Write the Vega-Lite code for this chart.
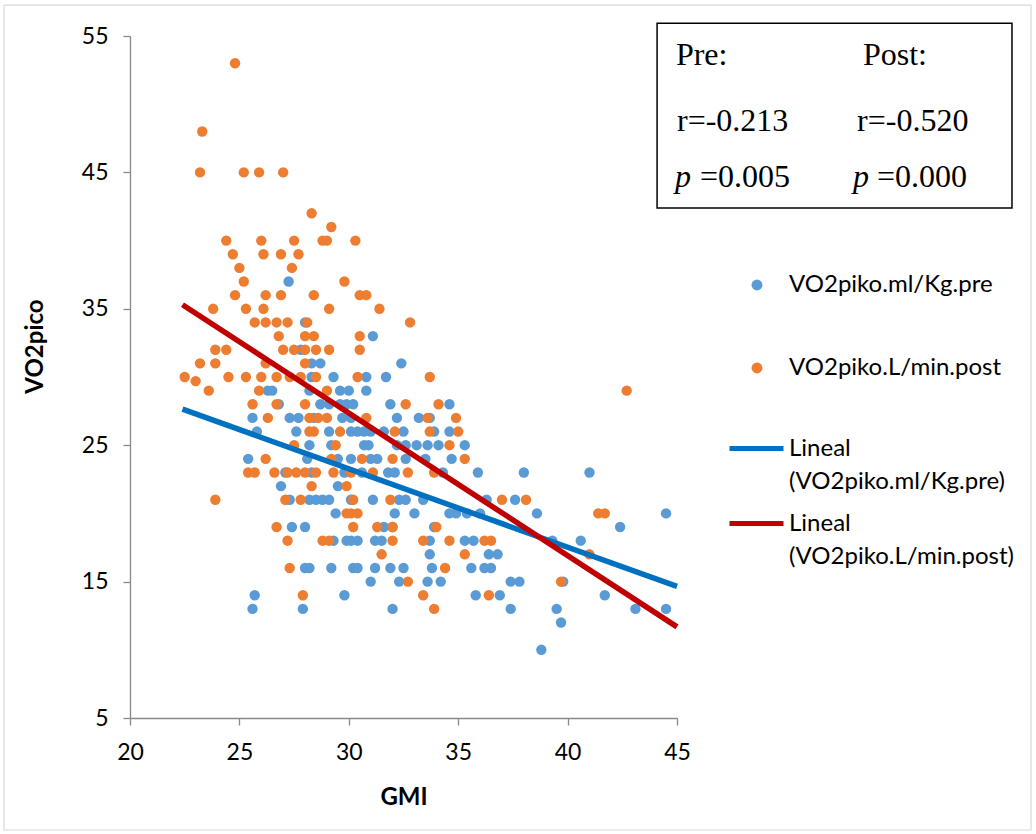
{
  "$schema": "https://vega.github.io/schema/vega-lite/v6.json",
  "width": 547,
  "height": 682,
  "autosize": {"type": "none"},
  "padding": {"left": 130, "top": 36, "right": 359, "bottom": 116},
  "background": "white",
  "config": {"view": {"stroke": null}, "font": "Lato", "style": {"guide-label": {"lineHeight": 33}}},
  "datasets": {
    "obs": [
      {"serie":"VO2piko.ml/Kg.pre","GMI":27.25,"VO2pico":37},
      {"serie":"VO2piko.ml/Kg.pre","GMI":28.0,"VO2pico":34},
      {"serie":"VO2piko.ml/Kg.pre","GMI":31.1,"VO2pico":33},
      {"serie":"VO2piko.ml/Kg.pre","GMI":27.8,"VO2pico":32},
      {"serie":"VO2piko.ml/Kg.pre","GMI":28.3,"VO2pico":31},
      {"serie":"VO2piko.ml/Kg.pre","GMI":28.7,"VO2pico":31},
      {"serie":"VO2piko.ml/Kg.pre","GMI":32.4,"VO2pico":31},
      {"serie":"VO2piko.ml/Kg.pre","GMI":28.3,"VO2pico":30},
      {"serie":"VO2piko.ml/Kg.pre","GMI":29.3,"VO2pico":30},
      {"serie":"VO2piko.ml/Kg.pre","GMI":30.8,"VO2pico":30},
      {"serie":"VO2piko.ml/Kg.pre","GMI":31.7,"VO2pico":30},
      {"serie":"VO2piko.ml/Kg.pre","GMI":26.3,"VO2pico":29},
      {"serie":"VO2piko.ml/Kg.pre","GMI":26.5,"VO2pico":29},
      {"serie":"VO2piko.ml/Kg.pre","GMI":28.2,"VO2pico":29},
      {"serie":"VO2piko.ml/Kg.pre","GMI":29.6,"VO2pico":29},
      {"serie":"VO2piko.ml/Kg.pre","GMI":30.0,"VO2pico":29},
      {"serie":"VO2piko.ml/Kg.pre","GMI":30.8,"VO2pico":29},
      {"serie":"VO2piko.ml/Kg.pre","GMI":26.8,"VO2pico":28},
      {"serie":"VO2piko.ml/Kg.pre","GMI":28.7,"VO2pico":28},
      {"serie":"VO2piko.ml/Kg.pre","GMI":29.1,"VO2pico":28},
      {"serie":"VO2piko.ml/Kg.pre","GMI":29.6,"VO2pico":28},
      {"serie":"VO2piko.ml/Kg.pre","GMI":29.9,"VO2pico":28},
      {"serie":"VO2piko.ml/Kg.pre","GMI":30.2,"VO2pico":28},
      {"serie":"VO2piko.ml/Kg.pre","GMI":31.9,"VO2pico":28},
      {"serie":"VO2piko.ml/Kg.pre","GMI":34.6,"VO2pico":28},
      {"serie":"VO2piko.ml/Kg.pre","GMI":25.6,"VO2pico":27},
      {"serie":"VO2piko.ml/Kg.pre","GMI":27.3,"VO2pico":27},
      {"serie":"VO2piko.ml/Kg.pre","GMI":27.7,"VO2pico":27},
      {"serie":"VO2piko.ml/Kg.pre","GMI":28.4,"VO2pico":27},
      {"serie":"VO2piko.ml/Kg.pre","GMI":29.7,"VO2pico":27},
      {"serie":"VO2piko.ml/Kg.pre","GMI":30.1,"VO2pico":27},
      {"serie":"VO2piko.ml/Kg.pre","GMI":32.2,"VO2pico":27},
      {"serie":"VO2piko.ml/Kg.pre","GMI":33.2,"VO2pico":27},
      {"serie":"VO2piko.ml/Kg.pre","GMI":33.7,"VO2pico":27},
      {"serie":"VO2piko.ml/Kg.pre","GMI":25.8,"VO2pico":26},
      {"serie":"VO2piko.ml/Kg.pre","GMI":27.6,"VO2pico":26},
      {"serie":"VO2piko.ml/Kg.pre","GMI":29.1,"VO2pico":26},
      {"serie":"VO2piko.ml/Kg.pre","GMI":30.1,"VO2pico":26},
      {"serie":"VO2piko.ml/Kg.pre","GMI":30.4,"VO2pico":26},
      {"serie":"VO2piko.ml/Kg.pre","GMI":30.7,"VO2pico":26},
      {"serie":"VO2piko.ml/Kg.pre","GMI":31.0,"VO2pico":26},
      {"serie":"VO2piko.ml/Kg.pre","GMI":31.6,"VO2pico":26},
      {"serie":"VO2piko.ml/Kg.pre","GMI":32.5,"VO2pico":26},
      {"serie":"VO2piko.ml/Kg.pre","GMI":33.9,"VO2pico":26},
      {"serie":"VO2piko.ml/Kg.pre","GMI":34.6,"VO2pico":26},
      {"serie":"VO2piko.ml/Kg.pre","GMI":28.2,"VO2pico":25},
      {"serie":"VO2piko.ml/Kg.pre","GMI":29.2,"VO2pico":25},
      {"serie":"VO2piko.ml/Kg.pre","GMI":30.7,"VO2pico":25},
      {"serie":"VO2piko.ml/Kg.pre","GMI":30.9,"VO2pico":25},
      {"serie":"VO2piko.ml/Kg.pre","GMI":32.2,"VO2pico":25},
      {"serie":"VO2piko.ml/Kg.pre","GMI":32.6,"VO2pico":25},
      {"serie":"VO2piko.ml/Kg.pre","GMI":33.1,"VO2pico":25},
      {"serie":"VO2piko.ml/Kg.pre","GMI":33.6,"VO2pico":25},
      {"serie":"VO2piko.ml/Kg.pre","GMI":34.1,"VO2pico":25},
      {"serie":"VO2piko.ml/Kg.pre","GMI":35.3,"VO2pico":25},
      {"serie":"VO2piko.ml/Kg.pre","GMI":25.4,"VO2pico":24},
      {"serie":"VO2piko.ml/Kg.pre","GMI":28.1,"VO2pico":24},
      {"serie":"VO2piko.ml/Kg.pre","GMI":29.5,"VO2pico":24},
      {"serie":"VO2piko.ml/Kg.pre","GMI":30.1,"VO2pico":24},
      {"serie":"VO2piko.ml/Kg.pre","GMI":31.0,"VO2pico":24},
      {"serie":"VO2piko.ml/Kg.pre","GMI":31.3,"VO2pico":24},
      {"serie":"VO2piko.ml/Kg.pre","GMI":32.6,"VO2pico":24},
      {"serie":"VO2piko.ml/Kg.pre","GMI":33.5,"VO2pico":24},
      {"serie":"VO2piko.ml/Kg.pre","GMI":34.7,"VO2pico":24},
      {"serie":"VO2piko.ml/Kg.pre","GMI":27.1,"VO2pico":23},
      {"serie":"VO2piko.ml/Kg.pre","GMI":28.3,"VO2pico":23},
      {"serie":"VO2piko.ml/Kg.pre","GMI":29.8,"VO2pico":23},
      {"serie":"VO2piko.ml/Kg.pre","GMI":30.6,"VO2pico":23},
      {"serie":"VO2piko.ml/Kg.pre","GMI":31.8,"VO2pico":23},
      {"serie":"VO2piko.ml/Kg.pre","GMI":32.1,"VO2pico":23},
      {"serie":"VO2piko.ml/Kg.pre","GMI":34.3,"VO2pico":23},
      {"serie":"VO2piko.ml/Kg.pre","GMI":35.9,"VO2pico":23},
      {"serie":"VO2piko.ml/Kg.pre","GMI":38.0,"VO2pico":23},
      {"serie":"VO2piko.ml/Kg.pre","GMI":41.0,"VO2pico":23},
      {"serie":"VO2piko.ml/Kg.pre","GMI":26.9,"VO2pico":22},
      {"serie":"VO2piko.ml/Kg.pre","GMI":29.5,"VO2pico":22},
      {"serie":"VO2piko.ml/Kg.pre","GMI":27.3,"VO2pico":21},
      {"serie":"VO2piko.ml/Kg.pre","GMI":28.2,"VO2pico":21},
      {"serie":"VO2piko.ml/Kg.pre","GMI":28.5,"VO2pico":21},
      {"serie":"VO2piko.ml/Kg.pre","GMI":28.8,"VO2pico":21},
      {"serie":"VO2piko.ml/Kg.pre","GMI":29.1,"VO2pico":21},
      {"serie":"VO2piko.ml/Kg.pre","GMI":30.1,"VO2pico":21},
      {"serie":"VO2piko.ml/Kg.pre","GMI":31.1,"VO2pico":21},
      {"serie":"VO2piko.ml/Kg.pre","GMI":32.3,"VO2pico":21},
      {"serie":"VO2piko.ml/Kg.pre","GMI":32.6,"VO2pico":21},
      {"serie":"VO2piko.ml/Kg.pre","GMI":33.4,"VO2pico":21},
      {"serie":"VO2piko.ml/Kg.pre","GMI":36.3,"VO2pico":21},
      {"serie":"VO2piko.ml/Kg.pre","GMI":37.6,"VO2pico":21},
      {"serie":"VO2piko.ml/Kg.pre","GMI":29.4,"VO2pico":20},
      {"serie":"VO2piko.ml/Kg.pre","GMI":32.1,"VO2pico":20},
      {"serie":"VO2piko.ml/Kg.pre","GMI":33.0,"VO2pico":20},
      {"serie":"VO2piko.ml/Kg.pre","GMI":34.6,"VO2pico":20},
      {"serie":"VO2piko.ml/Kg.pre","GMI":34.9,"VO2pico":20},
      {"serie":"VO2piko.ml/Kg.pre","GMI":35.4,"VO2pico":20},
      {"serie":"VO2piko.ml/Kg.pre","GMI":36.0,"VO2pico":20},
      {"serie":"VO2piko.ml/Kg.pre","GMI":38.6,"VO2pico":20},
      {"serie":"VO2piko.ml/Kg.pre","GMI":44.5,"VO2pico":20},
      {"serie":"VO2piko.ml/Kg.pre","GMI":27.4,"VO2pico":19},
      {"serie":"VO2piko.ml/Kg.pre","GMI":28.0,"VO2pico":19},
      {"serie":"VO2piko.ml/Kg.pre","GMI":31.6,"VO2pico":19},
      {"serie":"VO2piko.ml/Kg.pre","GMI":32.0,"VO2pico":19},
      {"serie":"VO2piko.ml/Kg.pre","GMI":33.9,"VO2pico":19},
      {"serie":"VO2piko.ml/Kg.pre","GMI":42.4,"VO2pico":19},
      {"serie":"VO2piko.ml/Kg.pre","GMI":29.3,"VO2pico":18},
      {"serie":"VO2piko.ml/Kg.pre","GMI":29.9,"VO2pico":18},
      {"serie":"VO2piko.ml/Kg.pre","GMI":30.1,"VO2pico":18},
      {"serie":"VO2piko.ml/Kg.pre","GMI":30.4,"VO2pico":18},
      {"serie":"VO2piko.ml/Kg.pre","GMI":31.2,"VO2pico":18},
      {"serie":"VO2piko.ml/Kg.pre","GMI":31.5,"VO2pico":18},
      {"serie":"VO2piko.ml/Kg.pre","GMI":33.7,"VO2pico":18},
      {"serie":"VO2piko.ml/Kg.pre","GMI":35.3,"VO2pico":18},
      {"serie":"VO2piko.ml/Kg.pre","GMI":35.7,"VO2pico":18},
      {"serie":"VO2piko.ml/Kg.pre","GMI":39.3,"VO2pico":18},
      {"serie":"VO2piko.ml/Kg.pre","GMI":40.6,"VO2pico":18},
      {"serie":"VO2piko.ml/Kg.pre","GMI":33.7,"VO2pico":17},
      {"serie":"VO2piko.ml/Kg.pre","GMI":36.4,"VO2pico":17},
      {"serie":"VO2piko.ml/Kg.pre","GMI":36.8,"VO2pico":17},
      {"serie":"VO2piko.ml/Kg.pre","GMI":28.0,"VO2pico":16},
      {"serie":"VO2piko.ml/Kg.pre","GMI":28.2,"VO2pico":16},
      {"serie":"VO2piko.ml/Kg.pre","GMI":29.2,"VO2pico":16},
      {"serie":"VO2piko.ml/Kg.pre","GMI":30.2,"VO2pico":16},
      {"serie":"VO2piko.ml/Kg.pre","GMI":30.4,"VO2pico":16},
      {"serie":"VO2piko.ml/Kg.pre","GMI":31.2,"VO2pico":16},
      {"serie":"VO2piko.ml/Kg.pre","GMI":31.9,"VO2pico":16},
      {"serie":"VO2piko.ml/Kg.pre","GMI":32.5,"VO2pico":16},
      {"serie":"VO2piko.ml/Kg.pre","GMI":33.8,"VO2pico":16},
      {"serie":"VO2piko.ml/Kg.pre","GMI":35.6,"VO2pico":16},
      {"serie":"VO2piko.ml/Kg.pre","GMI":36.2,"VO2pico":16},
      {"serie":"VO2piko.ml/Kg.pre","GMI":36.5,"VO2pico":16},
      {"serie":"VO2piko.ml/Kg.pre","GMI":31.0,"VO2pico":15},
      {"serie":"VO2piko.ml/Kg.pre","GMI":32.3,"VO2pico":15},
      {"serie":"VO2piko.ml/Kg.pre","GMI":33.6,"VO2pico":15},
      {"serie":"VO2piko.ml/Kg.pre","GMI":34.2,"VO2pico":15},
      {"serie":"VO2piko.ml/Kg.pre","GMI":37.4,"VO2pico":15},
      {"serie":"VO2piko.ml/Kg.pre","GMI":37.8,"VO2pico":15},
      {"serie":"VO2piko.ml/Kg.pre","GMI":39.8,"VO2pico":15},
      {"serie":"VO2piko.ml/Kg.pre","GMI":25.7,"VO2pico":14},
      {"serie":"VO2piko.ml/Kg.pre","GMI":29.8,"VO2pico":14},
      {"serie":"VO2piko.ml/Kg.pre","GMI":35.8,"VO2pico":14},
      {"serie":"VO2piko.ml/Kg.pre","GMI":36.9,"VO2pico":14},
      {"serie":"VO2piko.ml/Kg.pre","GMI":41.7,"VO2pico":14},
      {"serie":"VO2piko.ml/Kg.pre","GMI":25.6,"VO2pico":13},
      {"serie":"VO2piko.ml/Kg.pre","GMI":27.9,"VO2pico":13},
      {"serie":"VO2piko.ml/Kg.pre","GMI":32.0,"VO2pico":13},
      {"serie":"VO2piko.ml/Kg.pre","GMI":37.4,"VO2pico":13},
      {"serie":"VO2piko.ml/Kg.pre","GMI":39.5,"VO2pico":13},
      {"serie":"VO2piko.ml/Kg.pre","GMI":43.1,"VO2pico":13},
      {"serie":"VO2piko.ml/Kg.pre","GMI":44.5,"VO2pico":13},
      {"serie":"VO2piko.ml/Kg.pre","GMI":39.7,"VO2pico":12},
      {"serie":"VO2piko.ml/Kg.pre","GMI":38.8,"VO2pico":10},
      {"serie":"VO2piko.L/min.post","GMI":24.8,"VO2pico":53},
      {"serie":"VO2piko.L/min.post","GMI":23.3,"VO2pico":48},
      {"serie":"VO2piko.L/min.post","GMI":23.2,"VO2pico":45},
      {"serie":"VO2piko.L/min.post","GMI":25.2,"VO2pico":45},
      {"serie":"VO2piko.L/min.post","GMI":25.9,"VO2pico":45},
      {"serie":"VO2piko.L/min.post","GMI":27.0,"VO2pico":45},
      {"serie":"VO2piko.L/min.post","GMI":28.3,"VO2pico":42},
      {"serie":"VO2piko.L/min.post","GMI":29.2,"VO2pico":41},
      {"serie":"VO2piko.L/min.post","GMI":24.4,"VO2pico":40},
      {"serie":"VO2piko.L/min.post","GMI":26.0,"VO2pico":40},
      {"serie":"VO2piko.L/min.post","GMI":27.5,"VO2pico":40},
      {"serie":"VO2piko.L/min.post","GMI":28.8,"VO2pico":40},
      {"serie":"VO2piko.L/min.post","GMI":29.0,"VO2pico":40},
      {"serie":"VO2piko.L/min.post","GMI":30.3,"VO2pico":40},
      {"serie":"VO2piko.L/min.post","GMI":24.7,"VO2pico":39},
      {"serie":"VO2piko.L/min.post","GMI":26.1,"VO2pico":39},
      {"serie":"VO2piko.L/min.post","GMI":26.9,"VO2pico":39},
      {"serie":"VO2piko.L/min.post","GMI":27.7,"VO2pico":39},
      {"serie":"VO2piko.L/min.post","GMI":25.0,"VO2pico":38},
      {"serie":"VO2piko.L/min.post","GMI":27.4,"VO2pico":38},
      {"serie":"VO2piko.L/min.post","GMI":25.2,"VO2pico":37},
      {"serie":"VO2piko.L/min.post","GMI":29.8,"VO2pico":37},
      {"serie":"VO2piko.L/min.post","GMI":24.8,"VO2pico":36},
      {"serie":"VO2piko.L/min.post","GMI":26.2,"VO2pico":36},
      {"serie":"VO2piko.L/min.post","GMI":26.9,"VO2pico":36},
      {"serie":"VO2piko.L/min.post","GMI":28.4,"VO2pico":36},
      {"serie":"VO2piko.L/min.post","GMI":30.5,"VO2pico":36},
      {"serie":"VO2piko.L/min.post","GMI":30.8,"VO2pico":36},
      {"serie":"VO2piko.L/min.post","GMI":23.8,"VO2pico":35},
      {"serie":"VO2piko.L/min.post","GMI":25.3,"VO2pico":35},
      {"serie":"VO2piko.L/min.post","GMI":26.1,"VO2pico":35},
      {"serie":"VO2piko.L/min.post","GMI":29.1,"VO2pico":35},
      {"serie":"VO2piko.L/min.post","GMI":31.4,"VO2pico":35},
      {"serie":"VO2piko.L/min.post","GMI":25.7,"VO2pico":34},
      {"serie":"VO2piko.L/min.post","GMI":26.2,"VO2pico":34},
      {"serie":"VO2piko.L/min.post","GMI":26.7,"VO2pico":34},
      {"serie":"VO2piko.L/min.post","GMI":27.2,"VO2pico":34},
      {"serie":"VO2piko.L/min.post","GMI":28.1,"VO2pico":34},
      {"serie":"VO2piko.L/min.post","GMI":32.8,"VO2pico":34},
      {"serie":"VO2piko.L/min.post","GMI":26.8,"VO2pico":33},
      {"serie":"VO2piko.L/min.post","GMI":28.0,"VO2pico":33},
      {"serie":"VO2piko.L/min.post","GMI":28.4,"VO2pico":33},
      {"serie":"VO2piko.L/min.post","GMI":30.5,"VO2pico":33},
      {"serie":"VO2piko.L/min.post","GMI":23.9,"VO2pico":32},
      {"serie":"VO2piko.L/min.post","GMI":24.4,"VO2pico":32},
      {"serie":"VO2piko.L/min.post","GMI":27.0,"VO2pico":32},
      {"serie":"VO2piko.L/min.post","GMI":27.5,"VO2pico":32},
      {"serie":"VO2piko.L/min.post","GMI":28.0,"VO2pico":32},
      {"serie":"VO2piko.L/min.post","GMI":28.5,"VO2pico":32},
      {"serie":"VO2piko.L/min.post","GMI":29.1,"VO2pico":32},
      {"serie":"VO2piko.L/min.post","GMI":30.5,"VO2pico":32},
      {"serie":"VO2piko.L/min.post","GMI":23.2,"VO2pico":31},
      {"serie":"VO2piko.L/min.post","GMI":23.9,"VO2pico":31},
      {"serie":"VO2piko.L/min.post","GMI":26.2,"VO2pico":31},
      {"serie":"VO2piko.L/min.post","GMI":28.0,"VO2pico":31},
      {"serie":"VO2piko.L/min.post","GMI":22.5,"VO2pico":30},
      {"serie":"VO2piko.L/min.post","GMI":24.5,"VO2pico":30},
      {"serie":"VO2piko.L/min.post","GMI":25.3,"VO2pico":30},
      {"serie":"VO2piko.L/min.post","GMI":26.0,"VO2pico":30},
      {"serie":"VO2piko.L/min.post","GMI":26.7,"VO2pico":30},
      {"serie":"VO2piko.L/min.post","GMI":27.3,"VO2pico":30},
      {"serie":"VO2piko.L/min.post","GMI":27.8,"VO2pico":30},
      {"serie":"VO2piko.L/min.post","GMI":28.5,"VO2pico":30},
      {"serie":"VO2piko.L/min.post","GMI":30.4,"VO2pico":30},
      {"serie":"VO2piko.L/min.post","GMI":33.7,"VO2pico":30},
      {"serie":"VO2piko.L/min.post","GMI":23.0,"VO2pico":29.7},
      {"serie":"VO2piko.L/min.post","GMI":23.6,"VO2pico":29},
      {"serie":"VO2piko.L/min.post","GMI":25.9,"VO2pico":29},
      {"serie":"VO2piko.L/min.post","GMI":29.0,"VO2pico":29},
      {"serie":"VO2piko.L/min.post","GMI":42.7,"VO2pico":29},
      {"serie":"VO2piko.L/min.post","GMI":25.6,"VO2pico":28},
      {"serie":"VO2piko.L/min.post","GMI":26.7,"VO2pico":28},
      {"serie":"VO2piko.L/min.post","GMI":28.0,"VO2pico":28},
      {"serie":"VO2piko.L/min.post","GMI":32.6,"VO2pico":28},
      {"serie":"VO2piko.L/min.post","GMI":34.1,"VO2pico":28},
      {"serie":"VO2piko.L/min.post","GMI":26.3,"VO2pico":27},
      {"serie":"VO2piko.L/min.post","GMI":28.2,"VO2pico":27},
      {"serie":"VO2piko.L/min.post","GMI":28.6,"VO2pico":27},
      {"serie":"VO2piko.L/min.post","GMI":29.0,"VO2pico":27},
      {"serie":"VO2piko.L/min.post","GMI":30.8,"VO2pico":27},
      {"serie":"VO2piko.L/min.post","GMI":33.6,"VO2pico":27},
      {"serie":"VO2piko.L/min.post","GMI":34.9,"VO2pico":27},
      {"serie":"VO2piko.L/min.post","GMI":28.2,"VO2pico":26},
      {"serie":"VO2piko.L/min.post","GMI":28.4,"VO2pico":26},
      {"serie":"VO2piko.L/min.post","GMI":29.6,"VO2pico":26},
      {"serie":"VO2piko.L/min.post","GMI":32.1,"VO2pico":26},
      {"serie":"VO2piko.L/min.post","GMI":33.7,"VO2pico":26},
      {"serie":"VO2piko.L/min.post","GMI":35.0,"VO2pico":26},
      {"serie":"VO2piko.L/min.post","GMI":27.5,"VO2pico":25},
      {"serie":"VO2piko.L/min.post","GMI":29.4,"VO2pico":25},
      {"serie":"VO2piko.L/min.post","GMI":34.6,"VO2pico":25},
      {"serie":"VO2piko.L/min.post","GMI":26.2,"VO2pico":24},
      {"serie":"VO2piko.L/min.post","GMI":29.2,"VO2pico":24},
      {"serie":"VO2piko.L/min.post","GMI":30.6,"VO2pico":24},
      {"serie":"VO2piko.L/min.post","GMI":32.0,"VO2pico":24},
      {"serie":"VO2piko.L/min.post","GMI":35.3,"VO2pico":24},
      {"serie":"VO2piko.L/min.post","GMI":25.4,"VO2pico":23},
      {"serie":"VO2piko.L/min.post","GMI":25.7,"VO2pico":23},
      {"serie":"VO2piko.L/min.post","GMI":26.6,"VO2pico":23},
      {"serie":"VO2piko.L/min.post","GMI":27.2,"VO2pico":23},
      {"serie":"VO2piko.L/min.post","GMI":27.6,"VO2pico":23},
      {"serie":"VO2piko.L/min.post","GMI":28.0,"VO2pico":23},
      {"serie":"VO2piko.L/min.post","GMI":28.5,"VO2pico":23},
      {"serie":"VO2piko.L/min.post","GMI":29.3,"VO2pico":23},
      {"serie":"VO2piko.L/min.post","GMI":30.1,"VO2pico":23},
      {"serie":"VO2piko.L/min.post","GMI":31.1,"VO2pico":23},
      {"serie":"VO2piko.L/min.post","GMI":32.7,"VO2pico":23},
      {"serie":"VO2piko.L/min.post","GMI":33.9,"VO2pico":23},
      {"serie":"VO2piko.L/min.post","GMI":28.3,"VO2pico":22},
      {"serie":"VO2piko.L/min.post","GMI":29.9,"VO2pico":22},
      {"serie":"VO2piko.L/min.post","GMI":23.9,"VO2pico":21},
      {"serie":"VO2piko.L/min.post","GMI":27.1,"VO2pico":21},
      {"serie":"VO2piko.L/min.post","GMI":27.8,"VO2pico":21},
      {"serie":"VO2piko.L/min.post","GMI":30.2,"VO2pico":21},
      {"serie":"VO2piko.L/min.post","GMI":31.9,"VO2pico":21},
      {"serie":"VO2piko.L/min.post","GMI":37.0,"VO2pico":21},
      {"serie":"VO2piko.L/min.post","GMI":38.1,"VO2pico":21},
      {"serie":"VO2piko.L/min.post","GMI":29.9,"VO2pico":20},
      {"serie":"VO2piko.L/min.post","GMI":30.1,"VO2pico":20},
      {"serie":"VO2piko.L/min.post","GMI":30.4,"VO2pico":20},
      {"serie":"VO2piko.L/min.post","GMI":41.4,"VO2pico":20},
      {"serie":"VO2piko.L/min.post","GMI":41.7,"VO2pico":20},
      {"serie":"VO2piko.L/min.post","GMI":26.7,"VO2pico":19},
      {"serie":"VO2piko.L/min.post","GMI":30.2,"VO2pico":19},
      {"serie":"VO2piko.L/min.post","GMI":31.3,"VO2pico":19},
      {"serie":"VO2piko.L/min.post","GMI":32.0,"VO2pico":19},
      {"serie":"VO2piko.L/min.post","GMI":34.0,"VO2pico":19},
      {"serie":"VO2piko.L/min.post","GMI":27.2,"VO2pico":18},
      {"serie":"VO2piko.L/min.post","GMI":28.8,"VO2pico":18},
      {"serie":"VO2piko.L/min.post","GMI":29.1,"VO2pico":18},
      {"serie":"VO2piko.L/min.post","GMI":32.0,"VO2pico":18},
      {"serie":"VO2piko.L/min.post","GMI":33.4,"VO2pico":18},
      {"serie":"VO2piko.L/min.post","GMI":34.6,"VO2pico":18},
      {"serie":"VO2piko.L/min.post","GMI":36.2,"VO2pico":18},
      {"serie":"VO2piko.L/min.post","GMI":36.5,"VO2pico":18},
      {"serie":"VO2piko.L/min.post","GMI":31.5,"VO2pico":17},
      {"serie":"VO2piko.L/min.post","GMI":35.3,"VO2pico":17},
      {"serie":"VO2piko.L/min.post","GMI":41.0,"VO2pico":17},
      {"serie":"VO2piko.L/min.post","GMI":27.3,"VO2pico":16},
      {"serie":"VO2piko.L/min.post","GMI":34.4,"VO2pico":16},
      {"serie":"VO2piko.L/min.post","GMI":32.7,"VO2pico":15},
      {"serie":"VO2piko.L/min.post","GMI":39.7,"VO2pico":15},
      {"serie":"VO2piko.L/min.post","GMI":27.9,"VO2pico":14},
      {"serie":"VO2piko.L/min.post","GMI":33.4,"VO2pico":14},
      {"serie":"VO2piko.L/min.post","GMI":36.4,"VO2pico":14},
      {"serie":"VO2piko.L/min.post","GMI":33.9,"VO2pico":13}
    ],
    "trend": [
      {"serie":"Lineal|(VO2piko.ml/Kg.pre)","GMI":22.4,"VO2pico":27.64},
      {"serie":"Lineal|(VO2piko.ml/Kg.pre)","GMI":45,"VO2pico":14.65},
      {"serie":"Lineal|(VO2piko.L/min.post)","GMI":22.4,"VO2pico":35.3},
      {"serie":"Lineal|(VO2piko.L/min.post)","GMI":45,"VO2pico":11.68}
    ],
    "notes": [
      {"GMI":44.95,"VO2pico":52.87,"text":"Pre:"},
      {"GMI":53.5,"VO2pico":52.87,"text":"Post:"},
      {"GMI":45.0,"VO2pico":48.03,"text":"r=-0.213"},
      {"GMI":53.23,"VO2pico":48.03,"text":"r=-0.520"},
      {"GMI":44.91,"VO2pico":43.93,"text":"p"},
      {"GMI":46.05,"VO2pico":43.93,"text":"=0.005"},
      {"GMI":53.04,"VO2pico":43.93,"text":"p"},
      {"GMI":54.14,"VO2pico":43.93,"text":"=0.000"}
    ],
    "box": [
      {"GMI":44.09,"GMI2":60.31,"VO2pico":55.93,"VO2pico2":42.39}
    ],
    "frame": [
      {"GMI":14.24,"GMI2":61.18,"VO2pico":57.27,"VO2pico2":-3.21}
    ]
  },
  "encoding": {
    "x": {
      "field": "GMI", "type": "quantitative",
      "scale": {"domain": [20, 45], "nice": false, "zero": false},
      "axis": {
        "values": [20, 25, 30, 35, 40, 45], "grid": false, "title": "GMI",
        "titleFont": "Lato", "titleFontWeight": "bold", "titleFontSize": 24, "titleColor": "#000000",
        "titleY": 86, "titleBaseline": "alphabetic",
        "labelFont": "Lato", "labelFontSize": 23, "labelColor": "#000000", "labelPadding": 16,
        "labelFlush": false, "labelOverlap": false,
        "tickSize": 7, "tickColor": "#898989", "tickWidth": 1.3,
        "domainColor": "#898989", "domainWidth": 1.3
      }
    },
    "y": {
      "field": "VO2pico", "type": "quantitative",
      "scale": {"domain": [5, 55], "nice": false, "zero": false},
      "axis": {
        "values": [5, 15, 25, 35, 45, 55], "grid": false, "title": "VO2pico",
        "titleFont": "Lato", "titleFontWeight": "bold", "titleFontSize": 24, "titleColor": "#000000",
        "titleX": -95, "titleY": 310, "titleAngle": -90, "titleBaseline": "middle", "titleAlign": "center",
        "labelFont": "Lato", "labelFontSize": 23, "labelColor": "#000000", "labelPadding": 15,
        "labelFlush": false, "labelOverlap": false,
        "tickSize": 7, "tickColor": "#898989", "tickWidth": 1.3,
        "domainColor": "#898989", "domainWidth": 1.3
      }
    }
  },
  "layer": [
    {
      "data": {"name": "frame"},
      "mark": {"type": "rect", "filled": false, "stroke": "#D9D9D9", "strokeWidth": 1.2},
      "encoding": {"x2": {"field": "GMI2"}, "y2": {"field": "VO2pico2"}}
    },
    {
      "data": {"name": "obs"},
      "mark": {"type": "point", "filled": true, "opacity": 1, "size": 108},
      "encoding": {
        "color": {
          "field": "serie", "type": "nominal",
          "scale": {
            "domain": ["VO2piko.ml/Kg.pre", "VO2piko.L/min.post"],
            "range": ["#5B9BD5", "#ED7D31"]
          },
          "legend": {
            "title": null, "orient": "none", "legendX": 615, "legendY": 237,
            "padding": 0, "rowPadding": 59,
            "labelFont": "Lato", "labelFontSize": 24, "labelColor": "#000000", "labelLimit": 400,
            "labelOffset": 20, "labelBaseline": "middle",
            "symbolType": "circle", "symbolSize": 120, "symbolOpacity": 1, "symbolStrokeWidth": 0
          }
        }
      }
    },
    {
      "data": {"name": "trend"},
      "mark": {"type": "line", "strokeWidth": 5.5, "strokeCap": "butt"},
      "encoding": {
        "stroke": {
          "field": "serie", "type": "nominal",
          "scale": {
            "domain": ["Lineal|(VO2piko.ml/Kg.pre)", "Lineal|(VO2piko.L/min.post)"],
            "range": ["#0070C0", "#C00000"]
          },
          "legend": {
            "title": null, "orient": "none", "legendX": 597, "legendY": 383,
            "padding": 0, "rowPadding": -1,
            "labelFont": "Lato", "labelFontSize": 24, "labelColor": "#000000", "labelLimit": 400,
            "labelOffset": 3, "labelBaseline": "middle",
            "symbolType": "stroke", "symbolSize": 2916, "symbolStrokeWidth": 5,
            "labelExpr": "split(datum.label, '|')"
          }
        }
      }
    },
    {
      "data": {"name": "box"},
      "mark": {"type": "rect", "filled": false, "stroke": "#000000", "strokeWidth": 1.5},
      "encoding": {"x2": {"field": "GMI2"}, "y2": {"field": "VO2pico2"}}
    },
    {
      "data": {"name": "notes"},
      "transform": [{"filter": "datum.text != 'p'"}],
      "mark": {"type": "text", "font": "Liberation Serif", "fontSize": 32, "align": "left", "baseline": "alphabetic", "color": "#000000"},
      "encoding": {"text": {"field": "text"}}
    },
    {
      "data": {"name": "notes"},
      "transform": [{"filter": "datum.text == 'p'"}],
      "mark": {"type": "text", "font": "Liberation Serif", "fontSize": 32, "fontStyle": "italic", "align": "left", "baseline": "alphabetic", "color": "#000000"},
      "encoding": {"text": {"field": "text"}}
    }
  ]
}
